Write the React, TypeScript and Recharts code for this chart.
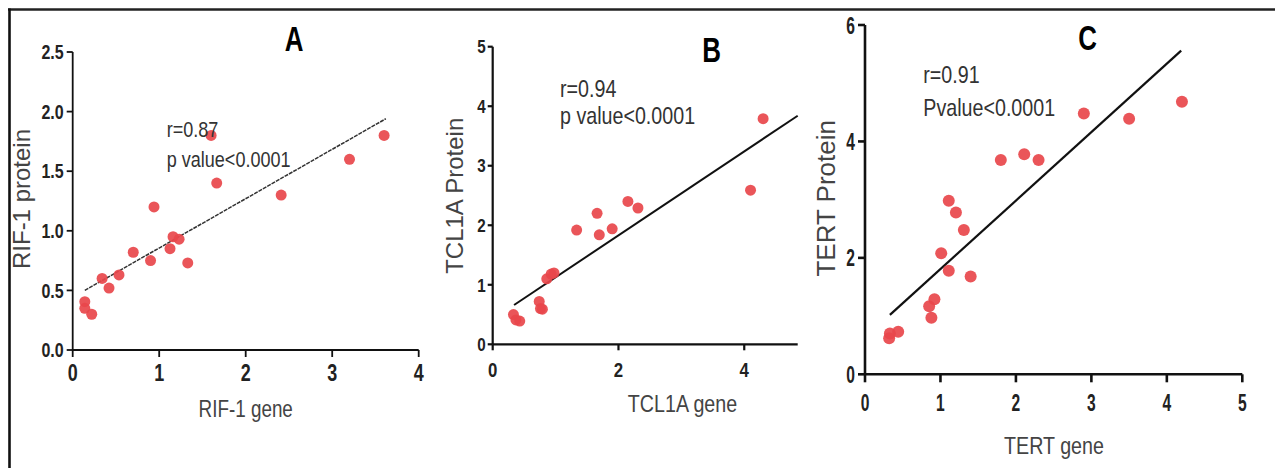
import { Scatter, ScatterChart, XAxis, YAxis } from "recharts";

const W = 1275;
const H = 468;
const FONT = "'Liberation Sans', Arial, sans-serif";
const DOT = "#e8474b";

// Panel A: RIF-1
const rifGene = [0.14, 0.14, 0.22, 0.34, 0.42, 0.535, 0.7, 0.9, 0.94, 1.125, 1.16, 1.23, 1.33, 1.6, 1.665, 2.41, 3.2, 3.6];
const rifProtein = [0.405, 0.35, 0.3, 0.6, 0.52, 0.63, 0.82, 0.75, 1.2, 0.85, 0.95, 0.93, 0.73, 1.8, 1.4, 1.3, 1.6, 1.8];
const rifFitGene = [0.14, 3.62];
const rifFitProtein = [0.5, 1.94];
const rifXTicks = [0, 1, 2, 3, 4];
const rifYTicks = [0, 0.5, 1, 1.5, 2, 2.5];

// Panel B: TCL1A
const tclGene = [0.33, 0.37, 0.43, 0.74, 0.76, 0.79, 0.86, 0.93, 0.975, 1.335, 1.66, 1.695, 1.9, 2.15, 2.31, 4.1, 4.3];
const tclProtein = [0.5, 0.41, 0.39, 0.72, 0.6, 0.59, 1.1, 1.18, 1.2, 1.92, 2.2, 1.84, 1.94, 2.4, 2.29, 2.59, 3.79];
const tclFitGene = [0.34, 4.85];
const tclFitProtein = [0.66, 3.84];
const tclXTicks = [0, 2, 4];
const tclYTicks = [0, 1, 2, 3, 4, 5];

// Panel C: TERT
const tertGene = [0.32, 0.33, 0.44, 0.85, 0.88, 0.92, 1.01, 1.11, 1.11, 1.205, 1.31, 1.4, 1.8, 2.11, 2.3, 2.9, 3.5, 4.2];
const tertProtein = [0.62, 0.7, 0.73, 1.17, 0.97, 1.29, 2.08, 1.78, 2.98, 2.78, 2.48, 1.68, 3.68, 3.78, 3.68, 4.48, 4.39, 4.68];
const tertFitGene = [0.33, 4.19];
const tertFitProtein = [1.02, 5.56];
const tertXTicks = [0, 1, 2, 3, 4, 5];
const tertYTicks = [0, 2, 4, 6];

const pairs = (xs: number[], ys: number[]) => xs.map((x, i) => ({ x, y: ys[i] }));

// squeezed text, the source figure was compressed sideways
function Narrow({ x, y, size, sx = 0.82, anchor = "start", weight = 400, fill = "#333", children }: any) {
  return (
    <text
      transform={`translate(${x} ${y}) scale(${sx} 1)`}
      fontFamily={FONT}
      fontSize={size}
      fontWeight={weight}
      fill={fill}
      textAnchor={anchor}
    >
      {children}
    </text>
  );
}

function makeTick(size: number, sx: number, axis: "x" | "y", fmt?: (v: number) => string) {
  return (t: any) => {
    const v = t.payload.value;
    const label = fmt ? fmt(v) : String(v);
    return (
      <text
        transform={`translate(${t.x} ${t.y}) scale(${sx} 1)`}
        fontFamily={FONT}
        fontSize={size}
        fontWeight={700}
        fill="#222"
        textAnchor={axis === "x" ? "middle" : "end"}
        dy={axis === "x" ? "0.71em" : "0.355em"}
      >
        {label}
      </text>
    );
  };
}

type PanelProps = {
  gene: number[];
  protein: number[];
  fitGene: number[];
  fitProtein: number[];
  xTicks: number[];
  yTicks: number[];
  xMax: number;
  yMax: number;
  margin: { top: number; right: number; bottom: number; left: number };
  xTick: (t: any) => any;
  yTick: (t: any) => any;
  xTickSize: number;
  xTickMargin: number;
  yTickSize: number;
  yTickMargin: number;
  axisWidth: number;
  radius: number;
  fitStyle: { stroke: string; strokeWidth: number; strokeDasharray?: string };
};

function Panel(p: PanelProps) {
  const axisStroke = { stroke: "#111", strokeWidth: p.axisWidth };
  return (
    <div style={{ position: "absolute", left: 0, top: 0 }}>
      <ScatterChart width={W} height={H} margin={p.margin}>
        <XAxis
          type="number"
          dataKey="x"
          domain={[0, p.xMax]}
          ticks={p.xTicks}
          interval={0}
          height={30}
          axisLine={axisStroke}
          tickLine={axisStroke}
          tickSize={p.xTickSize}
          tickMargin={p.xTickMargin}
          tick={p.xTick}
        />
        <YAxis
          type="number"
          dataKey="y"
          domain={[0, p.yMax]}
          ticks={p.yTicks}
          interval={0}
          width={60}
          axisLine={axisStroke}
          tickLine={axisStroke}
          tickSize={p.yTickSize}
          tickMargin={p.yTickMargin}
          tick={p.yTick}
        />
        <Scatter
          data={pairs(p.fitGene, p.fitProtein)}
          line={p.fitStyle}
          shape={() => <g />}
          isAnimationActive={false}
        />
        <Scatter
          data={pairs(p.gene, p.protein)}
          isAnimationActive={false}
          shape={(s: any) => <circle cx={s.cx} cy={s.cy} r={p.radius} fill={DOT} fillOpacity={0.92} />}
        />
      </ScatterChart>
    </div>
  );
}

export default function App() {
  return (
    <div style={{ position: "absolute", left: 0, top: 0, width: W, height: H, background: "#fff", overflow: "hidden" }}>
      <Panel
        gene={rifGene}
        protein={rifProtein}
        fitGene={rifFitGene}
        fitProtein={rifFitProtein}
        xTicks={rifXTicks}
        yTicks={rifYTicks}
        xMax={4}
        yMax={2.5}
        margin={{ top: 52, right: 856.3, bottom: 88, left: 12.7 }}
        xTick={makeTick(23, 0.78, "x")}
        yTick={makeTick(20, 0.8, "y", (v) => v.toFixed(1))}
        xTickSize={7}
        xTickMargin={8}
        yTickSize={6}
        yTickMargin={3}
        axisWidth={1.8}
        radius={5.5}
        fitStyle={{ stroke: "#333", strokeWidth: 1.5, strokeDasharray: "4 1" }}
      />
      <Panel
        gene={tclGene}
        protein={tclProtein}
        fitGene={tclFitGene}
        fitProtein={tclFitProtein}
        xTicks={tclXTicks}
        yTicks={tclYTicks}
        xMax={4.85}
        yMax={5}
        margin={{ top: 46.7, right: 477.3, bottom: 93.7, left: 432.7 }}
        xTick={makeTick(21, 0.8, "x")}
        yTick={makeTick(19, 0.8, "y")}
        xTickSize={6}
        xTickMargin={12}
        yTickSize={5}
        yTickMargin={2}
        axisWidth={2.2}
        radius={5.5}
        fitStyle={{ stroke: "#111", strokeWidth: 2 }}
      />
      <Panel
        gene={tertGene}
        protein={tertProtein}
        fitGene={tertFitGene}
        fitProtein={tertFitProtein}
        xTicks={tertXTicks}
        yTicks={tertYTicks}
        xMax={5}
        yMax={6}
        margin={{ top: 25, right: 32.7, bottom: 63.7, left: 805 }}
        xTick={makeTick(24, 0.65, "x")}
        yTick={makeTick(24, 0.65, "y")}
        xTickSize={8}
        xTickMargin={12}
        yTickSize={7}
        yTickMargin={3}
        axisWidth={2.6}
        radius={6}
        fitStyle={{ stroke: "#111", strokeWidth: 2.2 }}
      />
      <svg width={W} height={H} style={{ position: "absolute", left: 0, top: 0, pointerEvents: "none" }}>
        <line x1={8} y1={9.5} x2={W} y2={9.5} stroke="#222" strokeWidth={2.4} />
        <line x1={9.5} y1={8.5} x2={9.5} y2={H} stroke="#111" strokeWidth={2.6} />

        <Narrow x={294} y={51} size={36} sx={0.72} anchor="middle" weight={700} fill="#000">A</Narrow>
        <Narrow x={711.7} y={62} size={36} sx={0.72} anchor="middle" weight={700} fill="#000">B</Narrow>
        <Narrow x={1087.7} y={50} size={36} sx={0.72} anchor="middle" weight={700} fill="#000">C</Narrow>

        <Narrow x={166.7} y={137} size={22}>r=0.87</Narrow>
        <Narrow x={166.7} y={166.5} size={22}>p value&lt;0.0001</Narrow>
        <Narrow x={560} y={96.7} size={24}>r=0.94</Narrow>
        <Narrow x={560} y={124} size={24}>p value&lt;0.0001</Narrow>
        <Narrow x={923.3} y={83.3} size={24}>r=0.91</Narrow>
        <Narrow x={923.3} y={115.7} size={24}>Pvalue&lt;0.0001</Narrow>

        <Narrow x={245.7} y={416.5} size={23} anchor="middle" fill="#444">RIF-1 gene</Narrow>
        <Narrow x={682.5} y={411.5} size={24} anchor="middle" fill="#444">TCL1A gene</Narrow>
        <Narrow x={1054} y={454} size={24} anchor="middle" fill="#444">TERT gene</Narrow>

        <g fontFamily={FONT} fill="#444" textAnchor="middle">
          <text x={30} y={199} fontSize={24} transform="rotate(-90 30 199)">RIF-1 protein</text>
          <text x={463} y={195.8} fontSize={24} transform="rotate(-90 463 195.8)">TCL1A Protein</text>
          <text x={835} y={198.3} fontSize={26} transform="rotate(-90 835 198.3)">TERT Protein</text>
        </g>
      </svg>
    </div>
  );
}
